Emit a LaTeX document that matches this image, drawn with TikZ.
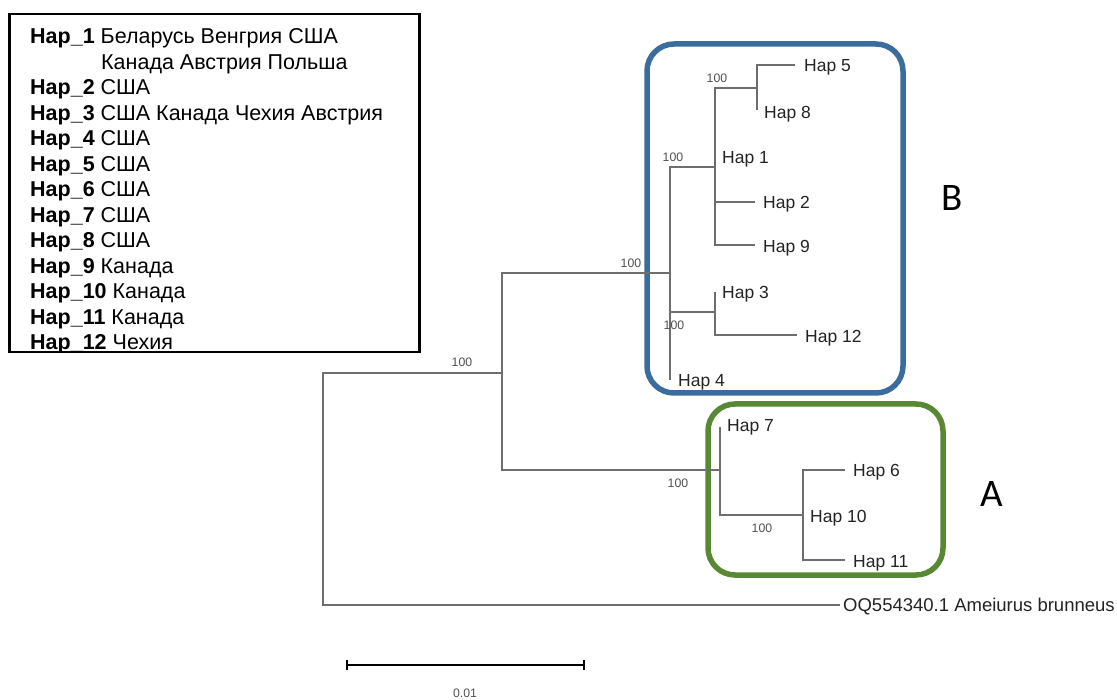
\documentclass[tikz,border=0pt]{standalone}
\usepackage{fontspec}
\setmainfont{Liberation Sans}
\newfontfamily\calib{Carlito}
\definecolor{treegray}{RGB}{110,110,110}
\definecolor{labgray}{RGB}{35,35,35}
\definecolor{bsgray}{RGB}{80,80,80}
\definecolor{cladeblue}{RGB}{58,108,158}
\definecolor{cladegreen}{RGB}{88,136,52}
\tikzset{
  branch/.style={draw=treegray, line width=1.6pt},
  taxon/.style={anchor=west, inner sep=0pt, text=labgray, font=\fontsize{17.5}{17.5}\selectfont, text height=12.6pt, text depth=0pt},
  boot/.style={inner sep=0pt, text=bsgray, font=\fontsize{12.3}{12.3}\selectfont},
  legline/.style={anchor=base west, inner sep=0pt, font=\fontsize{21.5}{21.5}\selectfont},
  cladebox/.style={line width=5.5pt, rounded corners=27pt},
  cladelabel/.style={inner sep=0pt, font=\calib\fontsize{39}{39}\selectfont}
}
\begin{document}
\begin{tikzpicture}[x=1pt,y=-1pt]
\useasboundingbox (0,0) rectangle (1117,700);

% ---- legend ----
\node[legline] (l1) at (30,44) {\textbf{Hap\_1} Беларусь Венгрия США};
\node[legline] (l1b) at (101,69.5) {Канада Австрия Польша};
\node[legline] (l2) at (30,95) {\textbf{Hap\_2} США};
\node[legline] (l3) at (30,120.5) {\textbf{Hap\_3} США Канада Чехия Австрия};
\node[legline] (l4) at (30,146) {\textbf{Hap\_4} США};
\node[legline] (l5) at (30,171.5) {\textbf{Hap\_5} США};
\node[legline] (l6) at (30,197) {\textbf{Hap\_6} США};
\node[legline] (l7) at (30,222.5) {\textbf{Hap\_7} США};
\node[legline] (l8) at (30,248) {\textbf{Hap\_8} США};
\node[legline] (l9) at (30,273.5) {\textbf{Hap\_9} Канада};
\node[legline] (l10) at (30,299) {\textbf{Hap\_10} Канада};
\node[legline] (l11) at (30,324.5) {\textbf{Hap\_11} Канада};
\node[legline] (l12) at (30,350) {\textbf{Hap\_12} Чехия};
\fill[white] (9.5,352) rectangle (420,362);
\draw[line width=2.4pt] (9.5,14) rectangle (419.5,352);

% ---- clade boxes ----
\draw[cladebox, draw=cladeblue] (647,44) rectangle (903,393);
\draw[cladebox, draw=cladegreen] (708,404) rectangle (943,575);

% ---- tree coordinates ----
\coordinate (n0) at (323,373);
\coordinate (n1) at (502,373);
\coordinate (nB) at (670,273);
\coordinate (nB1) at (715,167);
\coordinate (n58) at (757,88);
\coordinate (t5) at (795,65);
\coordinate (t8) at (757,110);
\coordinate (t1) at (715,157);
\coordinate (t2) at (755,202);
\coordinate (t9) at (755,245);
\coordinate (n312) at (715,312);
\coordinate (t3) at (715,292);
\coordinate (t12) at (797,335);
\coordinate (t4) at (670,380);
\coordinate (nA) at (720,470);
\coordinate (t7) at (720,427);
\coordinate (n6) at (803,515);
\coordinate (t6) at (845,470);
\coordinate (t11) at (845,560);
\coordinate (out) at (840,605);

% ---- branches ----
\draw[branch] (n1) -| (n0) |- (out);
\draw[branch] (nB) -| (n1) |- (nA);
\draw[branch] (nB1) -| (nB) |- (t4);
\draw[branch] (nB) |- (n312);
\draw[branch] (n58) -| (nB1) |- (t9);
\draw[branch] (nB1) |- (t2);
\draw[branch] (t5) -| (n58) |- (t8);
\draw[branch] (t3) -| (n312) |- (t12);
\draw[branch] (t7) -| (nA) |- (n6);
\draw[branch] (t6) -| (n6) |- (t11);

% ---- taxon labels ----
\node[taxon] (h5) at ([xshift=9pt]t5) {Hap 5};
\node[taxon] (h8) at ([xshift=7pt,yshift=-2pt]t8) {Hap 8};
\node[taxon] (h1) at ([xshift=7pt]t1) {Hap 1};
\node[taxon] (h2) at ([xshift=8pt]t2) {Hap 2};
\node[taxon] (h9) at ([xshift=8pt,yshift=-1pt]t9) {Hap 9};
\node[taxon] (h3) at ([xshift=7pt]t3) {Hap 3};
\node[taxon] (h12) at ([xshift=8pt,yshift=-1pt]t12) {Hap 12};
\node[taxon] (h4) at ([xshift=8pt]t4) {Hap 4};
\node[taxon] (h7) at ([xshift=7pt,yshift=2pt]t7) {Hap 7};
\node[taxon] (h6) at ([xshift=8pt]t6) {Hap 6};
\node[taxon] (h10) at ([xshift=7pt,yshift=-1pt]n6) {Hap 10};
\node[taxon] (h11) at ([xshift=8pt,yshift=-1pt]t11) {Hap 11};
\node[taxon, font=\fontsize{18.5}{18.5}\selectfont] (og) at ([xshift=3pt]out) {OQ554340.1 Ameiurus brunneus};

% ---- bootstrap values ----
\node[boot] (b1) at (462,362) {100};
\node[boot] (b2) at (631,263) {100};
\node[boot] (b3) at (673,157) {100};
\node[boot] (b4) at (717,78) {100};
\node[boot] (b5) at (674,325) {100};
\node[boot] (b6) at (678,483) {100};
\node[boot] (b7) at (762,528) {100};

% ---- clade labels ----
\node[cladelabel] (cB) at (952,198) {B};
\node[cladelabel] (cA) at (992,494) {A};

% ---- scale bar ----
\coordinate (s1) at (347,665);
\coordinate (s2) at (584,665);
\draw[line width=2pt] (s1) -- (s2);
\draw[line width=2.2pt] ([yshift=-5pt]s1) -- ([yshift=5pt]s1);
\draw[line width=2.2pt] ([yshift=-5pt]s2) -- ([yshift=5pt]s2);
\node[boot] (sl) at (465,693) {0.01};
\end{tikzpicture}
\end{document}
